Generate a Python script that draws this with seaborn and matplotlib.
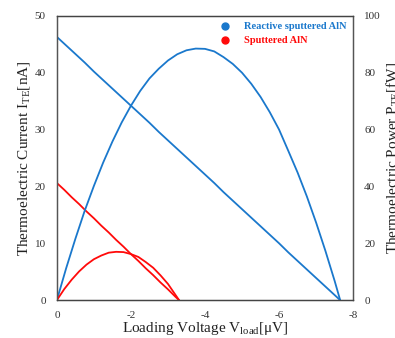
import matplotlib
matplotlib.use("Agg")
import matplotlib.pyplot as plt
from matplotlib.lines import Line2D
import pandas as pd
import seaborn as sns

# data
v_reactive = [0, -0.25, -0.5, -0.75, -1, -1.25, -1.5, -1.75, -2, -2.25, -2.5, -2.75,
              -3, -3.25, -3.5, -3.75, -4, -4.25, -4.5, -4.75, -5, -5.25, -5.5, -5.75,
              -6, -6.25, -6.5, -6.75, -7, -7.25, -7.5, -7.65]
i_reactive = [46.3, 44.8, 43.3, 41.8, 40.2, 38.7, 37.2, 35.7, 34.2, 32.7, 31.2, 29.6,
              28.1, 26.6, 25.1, 23.6, 22.1, 20.6, 19.0, 17.5, 16.0, 14.5, 13.0, 11.5,
              10.0, 8.4, 6.9, 5.4, 3.9, 2.4, 0.9, 0]
p_reactive = [0, 11.2, 21.6, 31.4, 40.2, 48.4, 55.8, 62.5, 68.4, 73.6, 78.0, 81.4,
              84.3, 86.5, 87.9, 88.5, 88.4, 87.5, 85.5, 83.1, 80.0, 76.1, 71.5, 66.1,
              60.0, 52.5, 44.9, 36.5, 27.3, 17.4, 6.8, 0]

v_sput = [0, -0.2, -0.4, -0.6, -0.8, -1.0, -1.2, -1.4, -1.6, -1.8, -2.0, -2.2,
          -2.4, -2.6, -2.8, -3.0, -3.2, -3.3]
i_sput = [20.6, 19.4, 18.1, 16.9, 15.6, 14.4, 13.1, 11.9, 10.6, 9.4, 8.1, 6.9,
          5.6, 4.4, 3.1, 1.9, 0.6, 0]
p_sput = [0, 3.9, 7.2, 10.1, 12.5, 14.4, 15.7, 16.7, 17.0, 16.9, 16.2, 15.2,
          13.4, 11.4, 8.7, 5.7, 1.9, 0]

x_ticks = [0, -2, -4, -6, -8]
left_ticks = [0, 10, 20, 30, 40, 50]
right_ticks = [0, 20, 40, 60, 80, 100]

blue = "#1a78cc"
red = "#ff0a0a"

sns.set_style("white")
plt.rcParams['font.family'] = ['Liberation Serif', 'DejaVu Serif']
plt.rcParams['mathtext.fontset'] = 'custom'
plt.rcParams['mathtext.rm'] = 'Liberation Serif'
plt.rcParams['mathtext.it'] = 'Liberation Serif:italic'

df_r = pd.DataFrame({"V": v_reactive, "I": i_reactive, "P": p_reactive})
df_s = pd.DataFrame({"V": v_sput, "I": i_sput, "P": p_sput})

fig = plt.figure(figsize=(3.95, 3.38), dpi=100)
ax = fig.add_axes([0.144, 0.112, 0.75, 0.841])
ax2 = ax.twinx()

sns.lineplot(data=df_r, x="V", y="I", ax=ax, color=blue, lw=1.3, sort=False)
sns.lineplot(data=df_s, x="V", y="I", ax=ax, color=red, lw=1.3, sort=False)
sns.lineplot(data=df_r, x="V", y="P", ax=ax2, color=blue, lw=1.3, sort=False)
sns.lineplot(data=df_s, x="V", y="P", ax=ax2, color=red, lw=1.3, sort=False)

ax.set_xlim(0, -8)
ax.set_ylim(0, 50)
ax2.set_ylim(0, 100)
ax.set_xticks(x_ticks)
ax.set_xticklabels([str(t) for t in x_ticks])
ax.set_yticks(left_ticks)
ax2.set_yticks(right_ticks)

for a in (ax, ax2):
    a.tick_params(length=0, labelsize=8, colors="#333333", pad=8)
    for side in ("top", "bottom"):
        a.spines[side].set_linestyle((0, (1, 1)))
        a.spines[side].set_color("#444444")
        a.spines[side].set_linewidth(0.9)
    for side in ("left", "right"):
        a.spines[side].set_color("#555555")
        a.spines[side].set_linewidth(0.9)

ax.set_xlabel(r"Loading Voltage V$_{\mathrm{load}}$[μV]", fontsize=11, color="#222222", labelpad=0)
ax.set_ylabel(r"Thermoelectric Current I$_{\mathrm{TE}}$[nA]", fontsize=11, color="#222222", labelpad=2)
ax2.set_ylabel(r"Thermoelectric Power P$_{\mathrm{TE}}$[fW]", fontsize=11, color="#222222", labelpad=2)

handles = [Line2D([], [], marker="o", ls="", color=blue, markersize=5),
           Line2D([], [], marker="o", ls="", color=red, markersize=5)]
leg = ax2.legend(handles, ["Reactive sputtered AlN", "Sputtered AlN"], loc="upper right",
                 frameon=False, prop={"weight": "bold", "size": 7.5}, handletextpad=0.9,
                 borderaxespad=0.2, labelspacing=0.45)
for txt, c in zip(leg.get_texts(), [blue, red]):
    txt.set_color(c)

fig.savefig("out.png", dpi=100)
plt.close()
